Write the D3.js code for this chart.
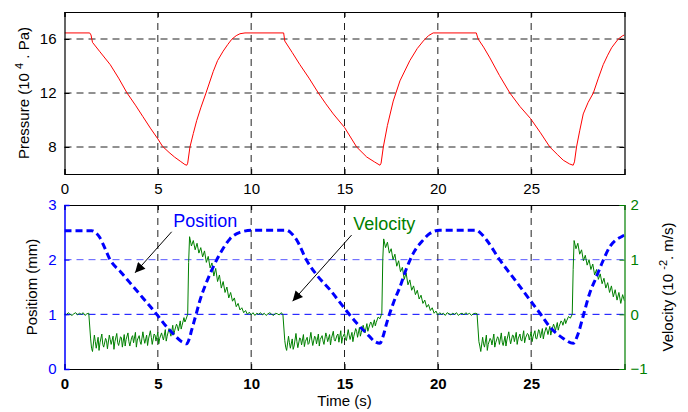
<!DOCTYPE html>
<html>
<head>
<meta charset="utf-8">
<script src="https://cdn.jsdelivr.net/npm/d3@7"></script>
<style>
  body { margin: 0; background: #fff; }
  svg { font-family: "Liberation Sans", Arial, sans-serif; }
</style>
</head>
<body>
<script>
// tick values
const timeTicks = [0, 5, 10, 15, 20, 25];
const pressureTicks = [8, 12, 16];
const positionTicks = [0, 1, 2, 3];
const velocityTicks = [-1, 0, 1, 2];

// pressure, [time s, 10^4 Pa]
const pressure = [
  [0, 16.45], [1.35, 16.45], [1.42, 16.3], [1.5, 15.75], [1.9, 15.05], [2.45, 14.1],
  [2.9, 13.1], [3.35, 12.0], [3.8, 11.1], [4.2, 10.25], [4.6, 9.4], [5.0, 8.6],
  [5.25, 8.05], [5.6, 7.6], [5.9, 7.25], [6.2, 6.95], [6.45, 6.7], [6.55, 6.65],
  [6.6, 6.8], [6.72, 8.0], [6.9, 9.0], [7.08, 9.95], [7.3, 10.9], [7.58, 12.0],
  [7.97, 13.6], [8.2, 14.4], [8.5, 15.1], [8.75, 15.6], [8.96, 15.98], [9.2, 16.25],
  [9.4, 16.39], [9.67, 16.45],
  [11.74, 16.45], [11.8, 15.85], [12.2, 15.0], [12.61, 14.1], [13.1, 13.1], [13.6, 12.0],
  [14.0, 11.2], [14.4, 10.45], [15.0, 9.45], [15.65, 8.0], [16.19, 7.26], [16.6, 6.9],
  [16.9, 6.65], [16.96, 6.8], [17.08, 8.0], [17.3, 9.6], [17.61, 11.4], [17.97, 12.9],
  [18.5, 14.4], [18.9, 15.3], [19.22, 15.85], [19.5, 16.25], [19.75, 16.45],
  [22.06, 16.45], [22.16, 16.0], [22.45, 15.4], [22.79, 14.6], [23.3, 13.3], [23.86, 12.0],
  [24.4, 11.0], [24.97, 10.1], [25.5, 9.05], [26.0, 8.0], [26.4, 7.45], [26.72, 7.02],
  [27.05, 6.75], [27.25, 6.65], [27.32, 6.9], [27.43, 8.0], [27.6, 9.2], [27.79, 10.45],
  [28.05, 11.3], [28.33, 12.0], [28.6, 13.1], [28.86, 14.1], [29.1, 14.8], [29.31, 15.35],
  [29.5, 15.7], [29.67, 16.0], [29.9, 16.24], [30.0, 16.3]
];

// position, [time s, mm]
const position = [
  [0, 2.53], [1.46, 2.53], [1.65, 2.5], [1.9, 2.4], [2.15, 2.22], [2.44, 2.0], [3.0, 1.78],
  [3.5, 1.58], [4.0, 1.38], [4.5, 1.18], [4.94, 1.0], [5.4, 0.8], [5.83, 0.64],
  [6.28, 0.5], [6.55, 0.46], [6.68, 0.55], [6.81, 0.71], [7.05, 1.0], [7.26, 1.26],
  [7.6, 1.58], [7.97, 1.87], [8.4, 2.15], [8.86, 2.38], [9.4, 2.5], [10.1, 2.54],
  [11.9, 2.54], [12.1, 2.5], [12.44, 2.36], [12.97, 1.99], [13.51, 1.72], [14.22, 1.45],
  [14.93, 1.14], [15.65, 0.84], [16.19, 0.65], [16.63, 0.5], [16.9, 0.47], [17.05, 0.58],
  [17.26, 0.84], [17.61, 1.2], [17.97, 1.5], [18.3, 1.82], [18.69, 2.12], [19.22, 2.36],
  [19.57, 2.48], [20.1, 2.54],
  [22.08, 2.54], [22.25, 2.5], [22.61, 2.36], [23.33, 1.99], [24.13, 1.63], [24.94, 1.26],
  [25.47, 1.02], [26.0, 0.77], [26.72, 0.56], [27.25, 0.47], [27.52, 0.65], [27.78, 0.96],
  [28.1, 1.35], [28.5, 1.69], [28.85, 1.98], [29.22, 2.24], [29.55, 2.36], [29.84, 2.42],
  [30.0, 2.45]
];

// velocity, [time s, 10^-2 m/s]
const velocity = [
  [0.0, 0.02], [0.1, -0.01], [0.2, 0.03], [0.3, 0.0], [0.4, -0.02], [0.5, 0.01], [0.6, 0.03],
  [0.7, -0.01], [0.8, 0.02], [0.9, 0.0], [1.0, 0.03], [1.1, -0.02], [1.2, 0.01], [1.3, 0.02],
  [1.4, -0.45], [1.45, -0.62], [1.5, -0.68], [1.6, -0.38], [1.65, -0.5], [1.7, -0.62],
  [1.8, -0.42], [1.85, -0.66], [1.9, -0.52], [2.0, -0.36], [2.05, -0.55], [2.1, -0.6],
  [2.2, -0.44], [2.25, -0.48], [2.3, -0.63], [2.4, -0.38], [2.45, -0.46], [2.5, -0.55],
  [2.6, -0.4], [2.65, -0.64], [2.7, -0.5], [2.8, -0.35], [2.85, -0.52], [2.9, -0.57],
  [3.0, -0.41], [3.05, -0.43], [3.1, -0.6], [3.2, -0.37], [3.25, -0.58], [3.3, -0.46],
  [3.4, -0.34], [3.45, -0.5], [3.5, -0.58], [3.6, -0.42], [3.65, -0.39], [3.7, -0.52],
  [3.8, -0.33], [3.85, -0.6], [3.9, -0.47], [4.0, -0.39], [4.05, -0.5], [4.1, -0.55],
  [4.2, -0.32], [4.25, -0.44], [4.3, -0.53], [4.4, -0.38], [4.45, -0.57], [4.5, -0.45],
  [4.6, -0.3], [4.65, -0.42], [4.7, -0.55], [4.8, -0.36], [4.85, -0.38], [4.9, -0.49],
  [5.0, -0.33], [5.05, -0.54], [5.1, -0.44], [5.2, -0.34], [5.25, -0.41], [5.3, -0.47],
  [5.4, -0.28], [5.45, -0.49], [5.5, -0.4], [5.6, -0.26], [5.65, -0.33], [5.7, -0.4],
  [5.8, -0.2], [5.85, -0.38], [5.9, -0.3], [6.0, -0.18], [6.05, -0.22], [6.1, -0.3],
  [6.2, -0.12], [6.25, -0.27], [6.3, -0.2], [6.4, -0.06], [6.45, -0.14], [6.5, -0.1],
  [6.6, 0.0], [6.65, 0.95],
  [6.7, 1.42], [6.8, 1.25], [6.9, 1.35], [7.0, 1.18], [7.1, 1.3], [7.2, 1.12], [7.3, 1.22],
  [7.4, 1.05], [7.5, 1.16], [7.6, 0.95], [7.7, 1.06], [7.8, 0.85], [7.9, 0.94], [8.0, 0.7],
  [8.1, 0.84], [8.2, 0.6], [8.3, 0.72], [8.4, 0.48], [8.5, 0.6], [8.6, 0.4], [8.7, 0.5],
  [8.8, 0.3], [8.9, 0.4], [9.0, 0.24], [9.1, 0.3], [9.2, 0.14], [9.3, 0.2], [9.4, 0.08],
  [9.5, 0.12], [9.6, 0.03], [9.7, 0.07], [9.8, 0.0], [9.9, 0.04], [10.0, -0.01],
  [10.1, 0.03], [10.2, -0.02], [10.3, 0.02], [10.4, 0.0], [10.5, 0.03], [10.6, -0.01],
  [10.7, 0.02], [10.8, -0.02], [10.9, 0.01], [11.0, 0.03], [11.1, 0.0], [11.2, -0.02],
  [11.3, 0.02], [11.4, 0.01], [11.5, -0.01], [11.6, 0.03], [11.7, 0.0],
  [11.8, -0.48], [11.85, -0.6], [11.9, -0.66], [12.0, -0.4], [12.05, -0.52], [12.1, -0.62],
  [12.2, -0.45], [12.25, -0.64], [12.3, -0.58], [12.4, -0.35], [12.45, -0.5], [12.5, -0.61],
  [12.6, -0.43], [12.65, -0.45], [12.7, -0.56], [12.8, -0.37], [12.85, -0.59], [12.9, -0.5],
  [13.0, -0.42], [13.05, -0.55], [13.1, -0.53], [13.2, -0.33], [13.25, -0.47], [13.3, -0.57],
  [13.4, -0.4], [13.45, -0.42], [13.5, -0.54], [13.6, -0.36], [13.65, -0.58], [13.7, -0.46],
  [13.8, -0.39], [13.85, -0.49], [13.9, -0.55], [14.0, -0.34], [14.05, -0.41], [14.1, -0.5],
  [14.2, -0.37], [14.25, -0.56], [14.3, -0.44], [14.4, -0.31], [14.45, -0.46], [14.5, -0.49],
  [14.6, -0.38], [14.65, -0.36], [14.7, -0.51], [14.8, -0.3], [14.85, -0.53], [14.9, -0.42],
  [15.0, -0.35], [15.05, -0.45], [15.1, -0.48], [15.2, -0.28], [15.25, -0.38], [15.3, -0.46],
  [15.4, -0.33], [15.45, -0.5], [15.5, -0.4], [15.6, -0.26], [15.65, -0.31], [15.7, -0.42],
  [15.8, -0.24], [15.85, -0.4], [15.9, -0.33], [16.0, -0.2], [16.05, -0.27], [16.1, -0.34],
  [16.2, -0.17], [16.25, -0.31], [16.3, -0.25], [16.4, -0.14], [16.45, -0.16], [16.5, -0.24],
  [16.6, -0.1], [16.65, -0.21], [16.7, -0.15], [16.8, -0.05], [16.9, -0.08],
  [17.0, 0.02], [17.05, 1.0],
  [17.1, 1.38], [17.2, 1.22], [17.3, 1.32], [17.4, 1.12], [17.5, 1.2], [17.6, 1.0],
  [17.7, 1.1], [17.8, 0.88], [17.9, 0.98], [18.0, 0.78], [18.1, 0.86], [18.2, 0.64],
  [18.3, 0.76], [18.4, 0.54], [18.5, 0.63], [18.6, 0.44], [18.7, 0.52], [18.8, 0.36],
  [18.9, 0.44], [19.0, 0.28], [19.1, 0.35], [19.2, 0.2], [19.3, 0.26], [19.4, 0.13],
  [19.5, 0.18], [19.6, 0.07], [19.7, 0.12], [19.8, 0.02], [19.9, 0.06], [20.0, -0.01],
  [20.1, 0.03], [20.2, 0.0], [20.3, 0.02], [20.4, -0.02], [20.5, 0.03], [20.6, 0.01],
  [20.7, -0.01], [20.8, 0.02], [20.9, 0.0], [21.0, 0.03], [21.1, -0.02], [21.2, 0.01],
  [21.3, 0.02], [21.4, -0.01], [21.5, 0.03], [21.6, 0.0], [21.7, 0.02], [21.8, -0.02],
  [21.9, 0.01], [22.0, 0.02], [22.1, 0.01],
  [22.2, -0.5], [22.25, -0.58], [22.3, -0.68], [22.4, -0.42], [22.45, -0.54], [22.5, -0.6],
  [22.6, -0.38], [22.65, -0.66], [22.7, -0.55], [22.8, -0.44], [22.85, -0.47], [22.9, -0.56],
  [23.0, -0.36], [23.05, -0.6], [23.1, -0.52], [23.2, -0.41], [23.25, -0.44], [23.3, -0.55],
  [23.4, -0.34], [23.45, -0.51], [23.5, -0.57], [23.6, -0.4], [23.65, -0.58], [23.7, -0.47],
  [23.8, -0.32], [23.85, -0.45], [23.9, -0.54], [24.0, -0.38], [24.05, -0.39], [24.1, -0.5],
  [24.2, -0.33], [24.25, -0.55], [24.3, -0.45], [24.4, -0.36], [24.45, -0.47], [24.5, -0.49],
  [24.6, -0.3], [24.65, -0.52], [24.7, -0.43], [24.8, -0.35], [24.85, -0.37], [24.9, -0.47],
  [25.0, -0.32], [25.05, -0.5], [25.1, -0.41], [25.2, -0.3], [25.25, -0.44], [25.3, -0.45],
  [25.4, -0.28], [25.45, -0.31], [25.5, -0.43], [25.6, -0.26], [25.65, -0.45], [25.7, -0.36],
  [25.8, -0.24], [25.85, -0.29], [25.9, -0.37], [26.0, -0.22], [26.05, -0.38], [26.1, -0.3],
  [26.2, -0.18], [26.25, -0.23], [26.3, -0.3], [26.4, -0.15], [26.45, -0.29], [26.5, -0.22],
  [26.6, -0.12], [26.65, -0.14], [26.7, -0.2], [26.8, -0.08], [26.85, -0.17], [26.9, -0.12],
  [27.0, -0.04], [27.1, -0.07], [27.2, 0.0], [27.25, 0.82],
  [27.3, 1.35], [27.4, 1.2],
  [27.5, 1.3], [27.6, 1.1], [27.7, 1.18], [27.8, 0.98], [27.9, 1.08], [28.0, 0.9],
  [28.1, 1.0], [28.2, 0.82], [28.3, 0.92], [28.4, 0.72], [28.5, 0.82], [28.6, 0.64],
  [28.7, 0.74], [28.8, 0.56], [28.9, 0.66], [29.0, 0.48], [29.1, 0.58], [29.2, 0.4],
  [29.3, 0.52], [29.4, 0.32], [29.5, 0.45], [29.6, 0.26], [29.7, 0.4], [29.8, 0.2],
  [29.9, 0.36], [30.0, 0.24]
];

// annotations: label anchor and arrow [from, to] in data units
const posNote = {text: "Position", at: [5.82, 2.6], arrow: [[5.74, 2.51], [3.78, 1.76]]};
const velNote = {text: "Velocity", at: [15.47, 1.54], arrow: [[15.38, 1.45], [12.22, 0.24]]};

const W = 688, H = 412;
const x = d3.scaleLinear().domain([0, 30]).range([64.5, 624.5]);
const yP = d3.scaleLinear().domain([6, 18]).range([174, 12]);
const yPos = d3.scaleLinear().domain([0, 3]).range([369, 205]);
const yVel = d3.scaleLinear().domain([-1, 2]).range([369, 205]);
const fmt = d3.format("d");

const svg = d3.select("body").append("svg")
  .attr("width", W).attr("height", H);

const defs = svg.append("defs");
defs.append("clipPath").attr("id", "clipTop").append("rect")
  .attr("x", x(0)).attr("y", yP(18)).attr("width", x(30) - x(0)).attr("height", yP(6) - yP(18));
defs.append("clipPath").attr("id", "clipBot").append("rect")
  .attr("x", x(0)).attr("y", yPos(3)).attr("width", x(30) - x(0)).attr("height", yPos(0) - yPos(3));
defs.append("marker").attr("id", "arrowhead")
  .attr("viewBox", "0 0 10 10").attr("refX", 10).attr("refY", 5)
  .attr("markerWidth", 12).attr("markerHeight", 10).attr("markerUnits", "userSpaceOnUse")
  .attr("orient", "auto")
  .append("path").attr("d", "M0,0 L10,5 L0,10 z").attr("fill", "#000");

const dash = "7,5";

// ---------- top panel: pressure
const topG = svg.append("g");
topG.selectAll(".vg").data(timeTicks.filter(d => d > 0)).join("line")
  .attr("x1", d => x(d)).attr("x2", d => x(d))
  .attr("y1", yP(6)).attr("y2", yP(18))
  .attr("stroke", "#222").attr("stroke-dasharray", dash);
topG.selectAll(".hg").data(pressureTicks).join("line")
  .attr("x1", x(0)).attr("x2", x(30))
  .attr("y1", d => yP(d)).attr("y2", d => yP(d))
  .attr("stroke", "#222").attr("stroke-dasharray", dash);

topG.append("path")
  .attr("clip-path", "url(#clipTop)")
  .attr("d", d3.line().x(d => x(d[0])).y(d => yP(d[1]))(pressure))
  .attr("fill", "none").attr("stroke", "#ff0000").attr("stroke-width", 1);

topG.append("g").attr("transform", `translate(0,${yP(6)})`)
  .call(d3.axisBottom(x).tickValues(timeTicks).tickFormat(fmt).tickSize(-5).tickPadding(9))
  .call(g => g.selectAll("text").attr("font-size", 15).attr("fill", "#000"));
topG.append("g").attr("transform", `translate(0,${yP(18)})`)
  .call(d3.axisTop(x).tickValues(timeTicks).tickSize(-5).tickFormat(""));
topG.append("g").attr("transform", `translate(${x(0)},0)`)
  .call(d3.axisLeft(yP).tickValues(pressureTicks).tickFormat(fmt).tickSize(-5).tickPadding(8))
  .call(g => g.selectAll("text").attr("font-size", 15).attr("fill", "#000"));
topG.append("g").attr("transform", `translate(${x(30)},0)`)
  .call(d3.axisRight(yP).tickValues(pressureTicks).tickSize(-5).tickFormat(""));
topG.selectAll(".domain").attr("stroke", "#000").attr("stroke-width", 1.2);

const pLabel = svg.append("text")
  .attr("transform", `translate(29,${(yP(6) + yP(18)) / 2}) rotate(-90)`)
  .attr("text-anchor", "middle").attr("font-size", 15).attr("fill", "#000");
pLabel.append("tspan").text("Pressure (10 ");
pLabel.append("tspan").attr("dy", -6).attr("font-size", 11).text("4");
pLabel.append("tspan").attr("dy", 6).text(" . Pa)");

// ---------- bottom panel: position + velocity
const botG = svg.append("g");
botG.selectAll(".vg").data(timeTicks.filter(d => d > 0)).join("line")
  .attr("x1", d => x(d)).attr("x2", d => x(d))
  .attr("y1", yPos(0)).attr("y2", yPos(3))
  .attr("stroke", "#222").attr("stroke-dasharray", dash);
botG.selectAll(".hg").data([1, 2]).join("line")
  .attr("x1", x(0)).attr("x2", x(30))
  .attr("y1", d => yPos(d)).attr("y2", d => yPos(d))
  .attr("stroke", "#0000ff").attr("stroke-opacity", (d, i) => i ? 0.65 : 1)
  .attr("stroke-dasharray", dash);

botG.append("path")
  .attr("clip-path", "url(#clipBot)")
  .attr("d", d3.line().x(d => x(d[0])).y(d => yVel(d[1]))(velocity))
  .attr("fill", "none").attr("stroke", "#008000").attr("stroke-width", 1);

botG.append("path")
  .attr("clip-path", "url(#clipBot)")
  .attr("d", d3.line().curve(d3.curveMonotoneX).x(d => x(d[0])).y(d => yPos(d[1]))(position))
  .attr("fill", "none").attr("stroke", "#0000ff").attr("stroke-width", 3)
  .attr("stroke-dasharray", "7,4");

const bx = botG.append("g").attr("transform", `translate(0,${yPos(0)})`)
  .call(d3.axisBottom(x).tickValues(timeTicks).tickFormat(fmt).tickSize(-5).tickPadding(9))
  .call(g => g.selectAll("text").attr("font-size", 15).attr("font-weight", "bold").attr("fill", "#000"));
bx.select(".domain").attr("stroke", "#000").attr("stroke-width", 1.2);
botG.append("g").attr("transform", `translate(0,${yPos(3)})`)
  .call(d3.axisTop(x).tickValues(timeTicks).tickSize(-5).tickFormat(""))
  .call(g => g.select(".domain").attr("stroke", "#000").attr("stroke-width", 1.2));

botG.append("g").attr("transform", `translate(${x(0)},0)`)
  .call(d3.axisLeft(yPos).tickValues(positionTicks).tickFormat(fmt).tickSize(-5).tickPadding(8))
  .call(g => {
    g.select(".domain").attr("stroke", "#0000ff").attr("stroke-width", 1.5);
    g.selectAll(".tick line").attr("stroke", "#0000ff");
    g.selectAll("text").attr("font-size", 15).attr("fill", "#0000ff");
  });
botG.append("g").attr("transform", `translate(${x(30)},0)`)
  .call(d3.axisRight(yVel).tickValues(velocityTicks).tickFormat(fmt).tickSize(-5).tickPadding(6))
  .call(g => {
    g.select(".domain").attr("stroke", "#008000").attr("stroke-width", 1.2);
    g.selectAll(".tick line").attr("stroke", "#008000");
    g.selectAll("text").attr("font-size", 15).attr("fill", "#008000");
  });

svg.append("text")
  .attr("transform", `translate(37,${(yPos(0) + yPos(3)) / 2}) rotate(-90)`)
  .attr("text-anchor", "middle").attr("font-size", 15).attr("fill", "#000")
  .text("Positiom (mm)");

const vLabel = svg.append("text")
  .attr("transform", `translate(673,${(yVel(-1) + yVel(2)) / 2}) rotate(-90)`)
  .attr("text-anchor", "middle").attr("font-size", 15).attr("fill", "#000");
vLabel.append("tspan").text("Velocity (10 ");
vLabel.append("tspan").attr("dy", -6).attr("font-size", 11).text("-2");
vLabel.append("tspan").attr("dy", 6).text(". m/s)");

svg.append("text")
  .attr("x", (x(0) + x(30)) / 2).attr("y", 406)
  .attr("text-anchor", "middle").attr("font-size", 15).attr("fill", "#000")
  .text("Time (s)");

// annotations
[[posNote, yPos, "#0000ff"], [velNote, yVel, "#008000"]].forEach(([n, ys, col]) => {
  svg.append("text")
    .attr("x", x(n.at[0])).attr("y", ys(n.at[1]))
    .attr("font-size", 18).attr("fill", col).text(n.text);
  svg.append("line")
    .attr("x1", x(n.arrow[0][0])).attr("y1", ys(n.arrow[0][1]))
    .attr("x2", x(n.arrow[1][0])).attr("y2", ys(n.arrow[1][1]))
    .attr("stroke", "#000").attr("stroke-width", 1)
    .attr("marker-end", "url(#arrowhead)");
});
</script>
</body>
</html>
